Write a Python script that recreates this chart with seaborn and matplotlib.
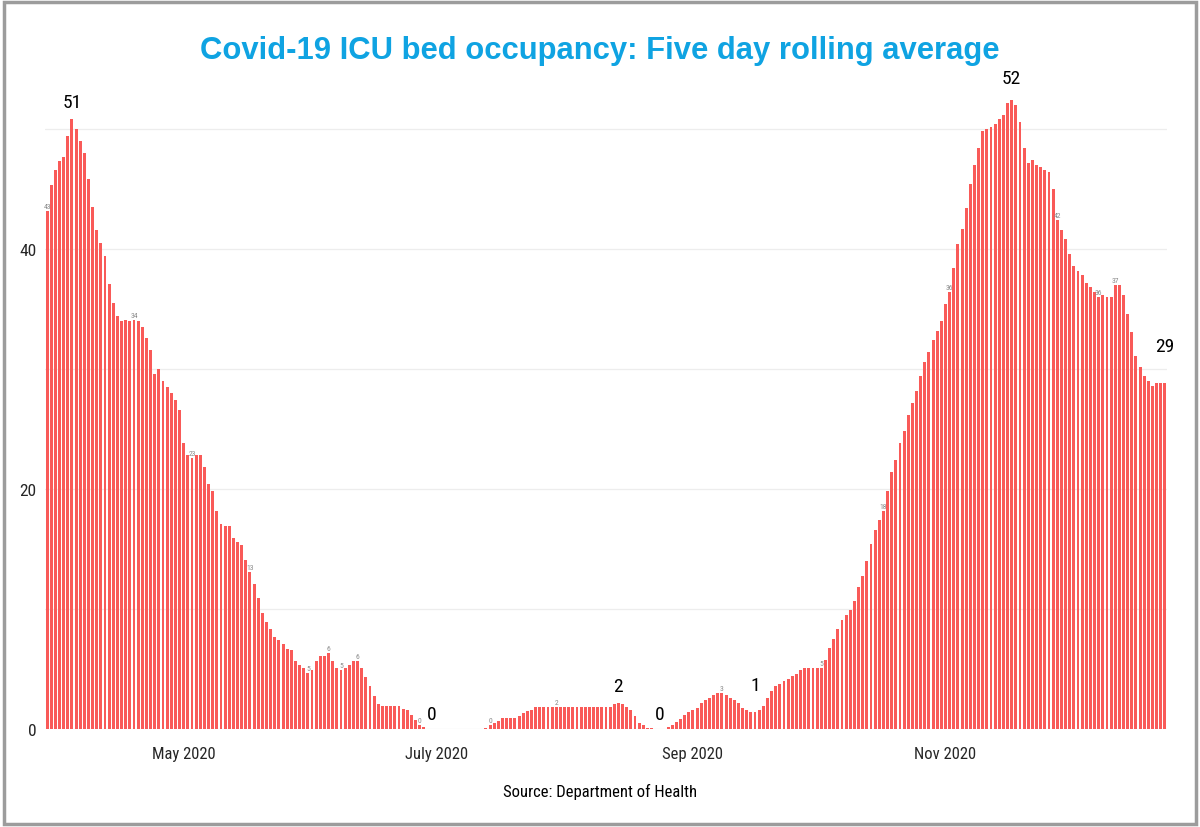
import pandas as pd
import matplotlib.pyplot as plt
import seaborn as sns
from matplotlib.patches import Rectangle
from matplotlib.ticker import MultipleLocator

# five day rolling average of ICU beds with covid patients, one value per day from 29 March 2020
start_date = '2020-03-29'

spring_wave = [43.2, 45.3, 46.6, 47.3, 47.7, 49.4, 50.8, 50.0, 49.0, 48.0,
               45.8, 43.5, 41.6, 40.5, 39.4, 37.1, 35.5, 34.4, 34.0, 34.1,
               34.0, 34.1, 34.0, 33.5, 32.6, 31.6, 29.6, 30.0, 29.0, 28.5,
               28.0, 27.4, 26.6, 23.8, 22.8, 22.6, 22.8, 22.8, 21.8, 20.4,
               19.8, 18.2, 17.1, 16.9, 16.9, 15.9, 15.6, 15.3, 14.1, 13.1,
               12.1, 10.9, 9.7, 8.9, 8.3, 7.7, 7.4, 7.1, 6.7, 6.6,
               5.7, 5.3, 5.1, 4.7, 4.9, 5.7, 6.1, 6.1, 6.3, 5.7,
               5.1, 4.9, 5.1, 5.3, 5.7, 5.7, 5.1, 4.3, 3.6, 2.75,
               2.1, 1.9, 1.9, 1.9, 1.9, 1.9, 1.7, 1.55, 1.2, 0.75,
               0.36, 0.14]
july_gap = [0, 0, 0, 0, 0, 0, 0, 0, 0, 0, 0, 0, 0, 0]
summer_bump = [0.1, 0.3, 0.5, 0.7, 0.9, 0.9, 0.9, 0.9, 1.1, 1.3,
               1.5, 1.6, 1.85, 1.85, 1.85, 1.85, 1.85, 1.85, 1.85, 1.85,
               1.85, 1.85, 1.85, 1.85, 1.85, 1.85, 1.85, 1.85, 1.85, 1.85,
               1.85, 2.05, 2.2, 2.1, 1.85, 1.6, 1.1, 0.5, 0.3, 0.1]
august_gap = [0.05, 0, 0, 0]
autumn_wave = [0.2, 0.35, 0.55, 0.8, 1.2, 1.4, 1.6, 1.75, 2.2, 2.4,
               2.6, 2.8, 3.0, 3.0, 2.8, 2.6, 2.4, 2.2, 1.75, 1.6,
               1.4, 1.4, 1.6, 1.95, 2.6, 3.2, 3.6, 3.75, 4.0, 4.2,
               4.4, 4.6, 4.95, 5.1, 5.1, 5.1, 5.1, 5.1, 5.75, 6.75,
               7.5, 8.3, 9.1, 9.5, 9.9, 10.7, 11.8, 12.75, 14.0, 15.4,
               16.6, 17.4, 18.2, 19.8, 21.4, 22.4, 23.8, 24.8, 26.2, 27.2,
               28.2, 29.4, 30.6, 31.4, 32.4, 33.2, 34.0, 35.4, 36.4, 38.4,
               40.4, 41.7, 43.4, 45.4, 47.0, 48.4, 49.8, 50.0, 50.2, 50.4,
               50.8, 51.2, 52.2, 52.4, 52.0, 50.6, 48.4, 47.2, 47.4, 47.0,
               46.8, 46.6, 46.4, 45.0, 42.4, 41.6, 40.8, 39.6, 38.6, 38.2,
               37.8, 37.2, 36.8, 36.4, 36.0, 36.2, 36.0, 36.0, 37.0, 37.0,
               36.2, 34.6, 33.05, 31.05, 30.2, 29.4, 29.0, 28.6, 28.8, 28.8,
               28.8]

tick_dates = ['2020-05-01', '2020-07-01', '2020-09-01', '2020-11-01']
tick_labels = ['May 2020', 'July 2020', 'Sep 2020', 'Nov 2020']

# days with a big black label (peaks, lows, last day) and with a small grey one
big_label_dates = ['2020-04-04', '2020-06-30', '2020-08-14', '2020-08-24',
                   '2020-09-16', '2020-11-17', '2020-12-24']
small_label_dates = ['2020-03-29', '2020-04-19', '2020-05-03', '2020-05-17',
                     '2020-05-31', '2020-06-05', '2020-06-08', '2020-06-12',
                     '2020-06-27', '2020-07-14', '2020-07-30', '2020-09-08',
                     '2020-10-02', '2020-10-17', '2020-11-02', '2020-11-28',
                     '2020-12-08', '2020-12-12']

values = spring_wave + july_gap + summer_bump + august_gap + autumn_wave
dates = pd.date_range(start_date, periods=len(values), freq='D').strftime('%Y-%m-%d')
df = pd.DataFrame({'date': dates, 'icu': values})
day_pos = {d: i for i, d in enumerate(df['date'])}

sns.set_style('white')
narrow = ['Roboto Condensed', 'Liberation Sans Narrow', 'Liberation Sans', 'DejaVu Sans']
plt.rcParams['font.family'] = narrow

fig = plt.figure(figsize=(12, 8.28), dpi=100)
ax = fig.add_axes([0.0375, 0.1184, 0.935, 0.797])

sns.barplot(data=df, x='date', y='icu', color='#f95a58', saturation=1,
            width=0.7, linewidth=0, errorbar=None, ax=ax)

ax.set_ylim(0, 55)
ax.yaxis.set_major_locator(MultipleLocator(20))
ax.yaxis.set_minor_locator(MultipleLocator(10))
ax.grid(axis='y', which='both', color='#ededed', linewidth=0.9)
ax.set_axisbelow(True)
sns.despine(ax=ax, left=True, bottom=True)
ax.set_xlabel('')
ax.set_ylabel('')

ax.set_xticks([day_pos[d] for d in tick_dates], tick_labels)
ax.tick_params(axis='x', length=0, pad=12, labelsize=12)
ax.tick_params(axis='y', which='both', length=0, pad=6, labelsize=12.5)

# gap in pixels between bar top and the big labels
big_gap = [8, 6, 8, 6, 18, 13, 28]
for d, gap in zip(big_label_dates, big_gap):
    i = day_pos[d]
    ax.annotate(f'{round(values[i])}', (i, values[i]), xytext=(0, gap),
                textcoords='offset pixels', ha='center', va='bottom',
                fontsize=14, color='black', annotation_clip=False)

for d in small_label_dates:
    i = day_pos[d]
    ax.annotate(f'{round(values[i])}', (i, values[i]), xytext=(0, 2),
                textcoords='offset pixels', ha='center', va='bottom',
                fontsize=5.5, color='#8a8a8a', annotation_clip=False)

fig.text(0.5, 1 - 51 / 828, 'Covid-19 ICU bed occupancy: Five day rolling average',
         ha='center', va='center', fontsize=22.3, fontweight='bold',
         color='#0fa3e2', family=['Liberation Sans', 'DejaVu Sans'])
fig.text(0.5, 1 - 792 / 828, 'Source: Department of Health',
         ha='center', va='center', fontsize=12, color='black')

fig.patches.append(Rectangle((0.003, 0.004), 0.994, 0.992, transform=fig.transFigure,
                             fill=False, edgecolor='#9c9c9c', linewidth=2.5))

fig.savefig('out.png', dpi=100)
